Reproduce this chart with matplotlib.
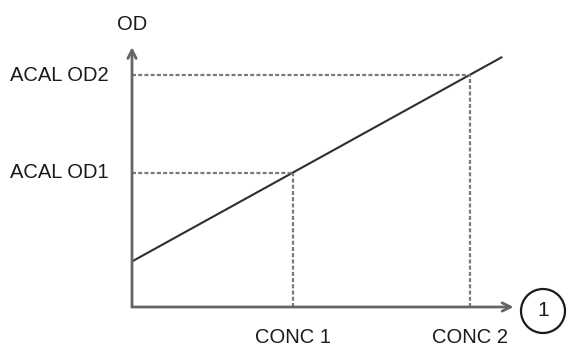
import matplotlib
matplotlib.use("Agg")
import matplotlib.pyplot as plt
from matplotlib.patches import Ellipse

# data (arbitrary units)
conc = [1.0, 2.1]
od = [1.0, 1.73]
conc_labels = ["CONC 1", "CONC 2"]
od_labels = ["ACAL OD1", "ACAL OD2"]
line_x = [0.0, 2.3]
intercept = 0.34
slope = (od[1] - od[0]) / (conc[1] - conc[0])
line_y = [intercept + slope * x for x in line_x]

plt.rcParams['font.family'] = ['Liberation Sans', 'DejaVu Sans']

W, H = 568, 349
fig = plt.figure(figsize=(W / 100, H / 100), dpi=100)
ax = fig.add_axes([132 / W, 42 / H, 436 / W, 307 / H])
ax.set_xlim(0, 436 / 161)
ax.set_ylim(0, 307 / 134)
ax.axis('off')

axis_col = '#666666'
# axes arrows
ax.annotate('', xy=(2.37, 0), xytext=(0, 0),
            arrowprops=dict(arrowstyle='->,head_length=0.6,head_width=0.3',
                            color=axis_col, lw=2.0, shrinkA=0, shrinkB=0),
            annotation_clip=False)
ax.annotate('', xy=(0, 1.94), xytext=(0, 0),
            arrowprops=dict(arrowstyle='->,head_length=0.6,head_width=0.3',
                            color=axis_col, lw=2.0, shrinkA=0, shrinkB=0),
            annotation_clip=False)

# calibration line
ax.plot(line_x, line_y, color='#2e2e2e', lw=1.5, solid_capstyle='butt', clip_on=False)

# dashed guides
for c, o in zip(conc, od):
    ax.plot([0, c], [o, o], color='#7a7a7a', lw=1.6, ls=(0, (1.8, 1.0)), clip_on=False)
    ax.plot([c, c], [0, o], color='#7a7a7a', lw=1.6, ls=(0, (1.8, 1.0)), clip_on=False)

fs = 14.5
tc = '#1a1a1a'
for c, lab in zip(conc, conc_labels):
    ax.text(c, -0.225, lab, ha='center', va='center', fontsize=fs, color=tc, clip_on=False)
for o, lab in zip(od, od_labels):
    ax.text(-(132 - 10) / 161, o, lab, ha='left', va='center', fontsize=fs, color=tc, clip_on=False)
ax.text(0, 283 / 134, 'OD', ha='center', va='center', fontsize=fs, color=tc, clip_on=False)

# circled marker
cx, cy = (543 - 132) / 161, (307 - 311) / 134
ax.add_patch(Ellipse((cx, cy), 44 / 161, 44 / 134, fill=False, ec='#1a1a1a', lw=1.6, clip_on=False))
ax.text(cx, cy, '1', ha='center', va='center', fontsize=15, color=tc, clip_on=False)

fig.savefig('out.png', dpi=100)
